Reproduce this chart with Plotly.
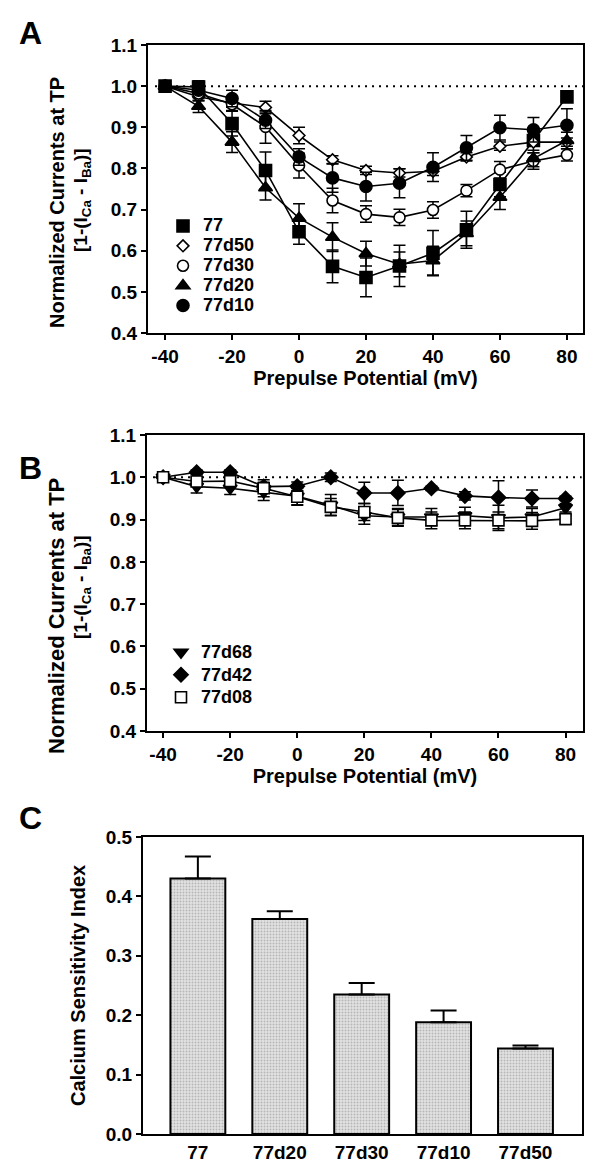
import plotly.graph_objects as go

# ---------------- data ----------------
voltage = [-40, -30, -20, -10, 0, 10, 20, 30, 40, 50, 60, 70, 80]

# Panel A
a_77 = [1.0, 0.998, 0.909, 0.795, 0.646, 0.562, 0.535, 0.563, 0.594, 0.651, 0.761, 0.868, 0.974]
a_77_err = [0, 0.015, 0.03, 0.045, 0.03, 0.04, 0.047, 0.05, 0.055, 0.045, 0.03, 0.03, 0.01]
a_77d50 = [1.0, 0.974, 0.959, 0.948, 0.88, 0.821, 0.795, 0.789, 0.793, 0.828, 0.854, 0.864, 0.864]
a_77d50_err = [0, 0.01, 0.01, 0.015, 0.02, 0.01, 0.01, 0.01, 0.01, 0.01, 0.01, 0.01, 0.01]
a_77d30 = [1.0, 0.982, 0.956, 0.901, 0.807, 0.722, 0.689, 0.681, 0.699, 0.746, 0.797, 0.818, 0.833]
a_77d30_err = [0, 0.01, 0.015, 0.04, 0.03, 0.03, 0.02, 0.02, 0.02, 0.015, 0.02, 0.02, 0.015]
a_77d20 = [1.0, 0.951, 0.864, 0.753, 0.679, 0.633, 0.593, 0.567, 0.576, 0.642, 0.73, 0.824, 0.868]
a_77d20_err = [0, 0.015, 0.025, 0.03, 0.035, 0.035, 0.03, 0.03, 0.035, 0.03, 0.03, 0.02, 0.02]
a_77d10 = [1.0, 0.99, 0.97, 0.917, 0.828, 0.777, 0.756, 0.764, 0.803, 0.85, 0.899, 0.894, 0.905]
a_77d10_err = [0, 0.01, 0.02, 0.02, 0.02, 0.035, 0.035, 0.035, 0.035, 0.03, 0.03, 0.03, 0.04]

# Panel B
b_77d68 = [1.0, 0.978, 0.974, 0.965, 0.955, 0.934, 0.909, 0.906, 0.906, 0.909, 0.904, 0.906, 0.928]
b_77d68_err = [0, 0.015, 0.015, 0.02, 0.02, 0.025, 0.02, 0.02, 0.02, 0.02, 0.03, 0.02, 0.01]
b_77d42 = [1.0, 1.012, 1.012, 0.978, 0.979, 1.0, 0.963, 0.963, 0.974, 0.956, 0.952, 0.95, 0.95]
b_77d42_err = [0, 0.005, 0.005, 0.01, 0.01, 0.01, 0.025, 0.03, 0.005, 0.01, 0.04, 0.02, 0.005]
b_77d08 = [1.0, 0.99, 0.991, 0.974, 0.954, 0.93, 0.918, 0.904, 0.898, 0.898, 0.898, 0.897, 0.901]
b_77d08_err = [0, 0.01, 0.01, 0.02, 0.02, 0.02, 0.02, 0.02, 0.02, 0.02, 0.02, 0.02, 0.01]

# Panel C
c_categories = ["77", "77d20", "77d30", "77d10", "77d50"]
c_values = [0.430, 0.362, 0.235, 0.188, 0.144]
c_errors = [0.037, 0.013, 0.019, 0.020, 0.005]

xticks = [-40, -20, 0, 20, 40, 60, 80]
xtick_labels = ["-40", "-20", "0", "20", "40", "60", "80"]
yticks_ab = [0.4, 0.5, 0.6, 0.7, 0.8, 0.9, 1.0, 1.1]
yticks_c = [0.0, 0.1, 0.2, 0.3, 0.4, 0.5]

# ---------------- styling ----------------
FONT = "Liberation Sans, Arial, sans-serif"
PAGE_OFF = 8                  # default body margin of the html page
W, H = 600 - PAGE_OFF, 1175 - PAGE_OFF


def px_x(p):
    return (p - PAGE_OFF) / W


def px_y(p):
    return 1 - (p - PAGE_OFF) / H


fig = go.Figure()

series_a = [
    (a_77, a_77_err, "77", "square", 12, True),
    (a_77d50, a_77d50_err, "77d50", "diamond", 9, False),
    (a_77d30, a_77d30_err, "77d30", "circle", 11, False),
    (a_77d20, a_77d20_err, "77d20", "triangle-up", 12, True),
    (a_77d10, a_77d10_err, "77d10", "circle", 12, True),
]
series_b = [
    (b_77d68, b_77d68_err, "77d68", "triangle-down", 12, True),
    (b_77d42, b_77d42_err, "77d42", "diamond", 11, True),
    (b_77d08, b_77d08_err, "77d08", "square", 11, False),
]

# connecting lines first (not in legend)
for group, xa, ya in ((series_a, "x", "y"), (series_b, "x2", "y2")):
    for y, err, name, sym, size, filled in group:
        fig.add_trace(go.Scatter(
            x=voltage, y=y, mode="lines", xaxis=xa, yaxis=ya, showlegend=False,
            line=dict(color="black", width=1.6), hoverinfo="skip"))

# markers with error bars (legend entries)
for group, xa, ya, leg in ((series_a, "x", "y", "legend"), (series_b, "x2", "y2", "legend2")):
    for y, err, name, sym, size, filled in group:
        fig.add_trace(go.Scatter(
            x=voltage, y=y, mode="markers", xaxis=xa, yaxis=ya, legend=leg,
            name=f'<span style="font-size:18px">{name}</span>',
            marker=dict(symbol=sym, size=size,
                        color="black" if filled else "white",
                        line=dict(color="black", width=1.6)),
            error_y=dict(type="data", array=err, visible=True,
                         color="black", thickness=1.5, width=6)))

fig.add_trace(go.Bar(
    x=c_categories, y=c_values, width=0.67, xaxis="x3", yaxis="y3",
    showlegend=False,
    marker=dict(color="#d6d6d6", line=dict(color="black", width=2),
                pattern=dict(shape=".", size=3, solidity=0.35,
                             fgcolor="#8a8a8a", bgcolor="#e2e2e2")),
    error_y=dict(type="data", array=c_errors, arrayminus=[0] * len(c_errors),
                 symmetric=False, visible=True, color="black",
                 thickness=2, width=13),
))

tickfont = dict(family=FONT, size=19, color="black", weight="bold")
titlefont = dict(family=FONT, size=20, color="black", weight="bold")

axis_common = dict(showline=True, mirror=True, linecolor="black", linewidth=2,
                   ticklen=5, tickwidth=1.5, tickcolor="black",
                   showgrid=False, zeroline=False, tickfont=tickfont)

fig.update_layout(
    width=W, height=H,
    margin=dict(l=0, r=0, t=0, b=0, autoexpand=False),
    paper_bgcolor="white", plot_bgcolor="white",
    font=dict(family=FONT, color="black"),
    xaxis=dict(domain=[px_x(148), px_x(583)], anchor="y", range=[-45.1, 84.8],
               tickvals=xticks, ticktext=xtick_labels, ticks="outside",
               title=dict(text="Prepulse Potential (mV)", font=titlefont, standoff=5),
               **axis_common),
    yaxis=dict(domain=[px_y(333), px_y(45)], anchor="x", range=[0.4, 1.1],
               tickvals=yticks_ab, tickformat=".1f", ticks="outside", **axis_common),
    xaxis2=dict(domain=[px_x(147), px_x(583)], anchor="y2", range=[-44.8, 85.2],
                tickvals=xticks, ticktext=xtick_labels, ticks="outside",
                title=dict(text="Prepulse Potential (mV)", font=titlefont, standoff=5),
                **axis_common),
    yaxis2=dict(domain=[px_y(731), px_y(435)], anchor="x2", range=[0.4, 1.1],
                tickvals=yticks_ab, tickformat=".1f", ticks="outside", **axis_common),
    xaxis3=dict(domain=[px_x(143), px_x(582)], anchor="y3", type="category",
                range=[-0.67, 4.69], ticks="", **axis_common),
    yaxis3=dict(domain=[px_y(1134), px_y(837)], anchor="x3", range=[0, 0.5],
                tickvals=yticks_c, tickformat=".1f", ticks="outside", **axis_common),
    legend=dict(x=px_x(163), y=px_y(211), xanchor="left", yanchor="top",
                bgcolor="rgba(0,0,0,0)", borderwidth=0,
                font=dict(family=FONT, size=13, color="black", weight="bold")),
    legend2=dict(x=px_x(161), y=px_y(636), xanchor="left", yanchor="top",
                 bgcolor="rgba(0,0,0,0)", borderwidth=0,
                 font=dict(family=FONT, size=15, color="black", weight="bold")),
    showlegend=True,
)

# dotted reference lines at 1.0
for xa, ya in (("x", "y"), ("x2", "y2")):
    fig.add_shape(type="line", xref=xa, yref=ya, x0=-43, x1=84.8, y0=1.0, y1=1.0,
                  line=dict(color="black", width=2, dash="2px,5px"), layer="below")

# panel letters
for letter, yy in (("A", 33), ("B", 468), ("C", 818)):
    fig.add_annotation(text=letter, xref="paper", yref="paper", x=px_x(30), y=px_y(yy),
                       showarrow=False, xanchor="center", yanchor="middle",
                       font=dict(family=FONT, size=32, color="black", weight="bold"))

# y-axis titles (two lines each for A and B)
yt_line1 = "Normalized Currents at TP"
yt_line2 = "[1-(I<sub>Ca</sub> - I<sub>Ba</sub>)]"
for (x1, y1, s1, x2, y2, s2) in ((57, 203, 20, 82, 200, 19), (56, 616, 22, 82, 587, 19)):
    fig.add_annotation(text=yt_line1, xref="paper", yref="paper", x=px_x(x1), y=px_y(y1),
                       showarrow=False, textangle=-90, xanchor="center", yanchor="middle",
                       font=dict(family=FONT, size=s1, color="black", weight="bold"))
    fig.add_annotation(text=yt_line2, xref="paper", yref="paper", x=px_x(x2), y=px_y(y2),
                       showarrow=False, textangle=-90, xanchor="center", yanchor="middle",
                       font=dict(family=FONT, size=s2, color="black", weight="bold"))

fig.add_annotation(text="Calcium Sensitivity Index", xref="paper", yref="paper",
                   x=px_x(78), y=px_y(986), showarrow=False, textangle=-90,
                   xanchor="center", yanchor="middle",
                   font=dict(family=FONT, size=20, color="black", weight="bold"))

fig.write_html("out.html")
